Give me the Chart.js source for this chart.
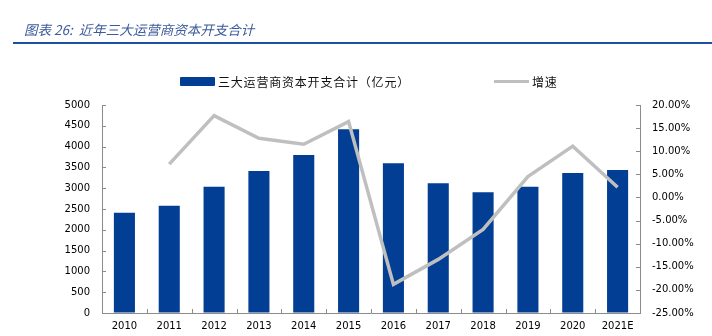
<!DOCTYPE html>
<html>
<head>
<meta charset="utf-8">
<script src="https://cdn.jsdelivr.net/npm/chart.js@4/dist/chart.umd.min.js"></script>
<style>
  body { margin: 0; background: #fff; }
  #wrap { position: relative; width: 712px; height: 336px; overflow: hidden; }
  #title { position: absolute; left: 24px; top: 19px; font: italic 13.5px "Noto Sans CJK SC", sans-serif; color: #3b5b9b; white-space: nowrap; }
  #rule { position: absolute; left: 13px; top: 42px; width: 700px; height: 2px; background: #1b4f9f; }
  .lg { position: absolute; top: 73px; font: 12px "Noto Sans CJK SC", sans-serif; color: #111; white-space: nowrap; line-height: 17px; letter-spacing: 0.8px; }
  #box1 { position: absolute; left: 180px; top: 77px; width: 35px; height: 9px; background: #023e94; border-radius: 1px; }
  #line2 { position: absolute; left: 494px; top: 80px; width: 35px; height: 3px; background: #bfbfbf; }
  canvas { position: absolute; left: 0; top: 0; }
</style>
</head>
<body>
<div id="wrap">
  <canvas id="myChart" width="712" height="336"></canvas>
  <div id="title">图表 26:&nbsp; 近年三大运营商资本开支合计</div>
  <div id="rule"></div>
  <div id="box1"></div>
  <div class="lg" style="left:218px">三大运营商资本开支合计（亿元）</div>
  <div id="line2"></div>
  <div class="lg" style="left:532px">增速</div>
</div>
<script>
// 数据
const years = ['2010', '2011', '2012', '2013', '2014', '2015', '2016', '2017', '2018', '2019', '2020', '2021E'];
const capex = [2410, 2578, 3035, 3413, 3798, 4416, 3600, 3118, 2900, 3036, 3365, 3437];
const growth = [null, 7.2, 17.7, 12.8, 11.5, 16.4, -18.8, -13.4, -6.9, 4.5, 11.1, 2.2];

const axisColor = '#8c8c8c';
const tickFont = { family: 'DejaVu Sans', size: 10 };

// pequenas marcas para dentro dos eixos
const innerTicks = {
    id: 'innerTicks',
    afterDraw(chart) {
        const ctx = chart.ctx;
        const area = chart.chartArea;
        const x = chart.scales.x, y = chart.scales.y, y1 = chart.scales.y1;
        ctx.save();
        ctx.strokeStyle = axisColor;
        ctx.lineWidth = 1;
        ctx.beginPath();
        y.ticks.forEach(function (t, i) {
            const py = Math.round(y.getPixelForTick(i)) + 0.5;
            ctx.moveTo(area.left, py);
            ctx.lineTo(area.left + 4, py);
        });
        y1.ticks.forEach(function (t, i) {
            const py = Math.round(y1.getPixelForTick(i)) + 0.5;
            ctx.moveTo(area.right, py);
            ctx.lineTo(area.right - 4, py);
        });
        for (let i = 1; i < years.length; i++) {
            const px = Math.round((x.getPixelForValue(i - 1) + x.getPixelForValue(i)) / 2) + 0.5;
            ctx.moveTo(px, area.bottom);
            ctx.lineTo(px, area.bottom - 4);
        }
        ctx.stroke();
        ctx.restore();
    }
};

const ctx = document.getElementById('myChart').getContext('2d');
const myChart = new Chart(ctx, {
    data: {
        labels: years,
        datasets: [{
            type: 'line',
            label: '增速',
            data: growth,
            yAxisID: 'y1',
            borderColor: '#bfbfbf',
            borderWidth: 3.5,
            pointRadius: 0,
            tension: 0,
            order: 0
        }, {
            type: 'bar',
            label: '三大运营商资本开支合计（亿元）',
            data: capex,
            yAxisID: 'y',
            backgroundColor: '#023e94',
            borderWidth: 0,
            categoryPercentage: 1,
            barPercentage: 0.47,
            order: 1
        }]
    },
    options: {
        responsive: false,
        animation: false,
        devicePixelRatio: 1,
        layout: { padding: { top: 105, left: 0, right: 0, bottom: 0 } },
        plugins: {
            legend: { display: false },
            tooltip: { enabled: false }
        },
        scales: {
            x: {
                offset: true,
                grid: { display: true, drawOnChartArea: false, drawTicks: false, offset: true },
                border: { color: axisColor, width: 1 },
                ticks: { color: '#000', font: tickFont, padding: 7, maxRotation: 0 },
                afterFit(s) { s.height = 23; }
            },
            y: {
                position: 'left',
                min: 0,
                max: 5000,
                grid: { display: true, drawOnChartArea: false, drawTicks: false },
                border: { color: axisColor, width: 1 },
                ticks: {
                    stepSize: 500,
                    color: '#000',
                    font: tickFont,
                    padding: 12,
                    callback: function (v) { return String(v); }
                },
                afterFit(s) { s.width = 102; }
            },
            y1: {
                position: 'right',
                min: -25,
                max: 20,
                grid: { display: true, drawOnChartArea: false, drawTicks: false },
                border: { color: axisColor, width: 1 },
                ticks: {
                    stepSize: 5,
                    color: '#000',
                    font: tickFont,
                    padding: 12,
                    callback: function (v) { return v.toFixed(2) + '%'; }
                },
                afterFit(s) { s.width = 72; }
            }
        }
    },
    plugins: [innerTicks]
});
</script>
</body>
</html>
